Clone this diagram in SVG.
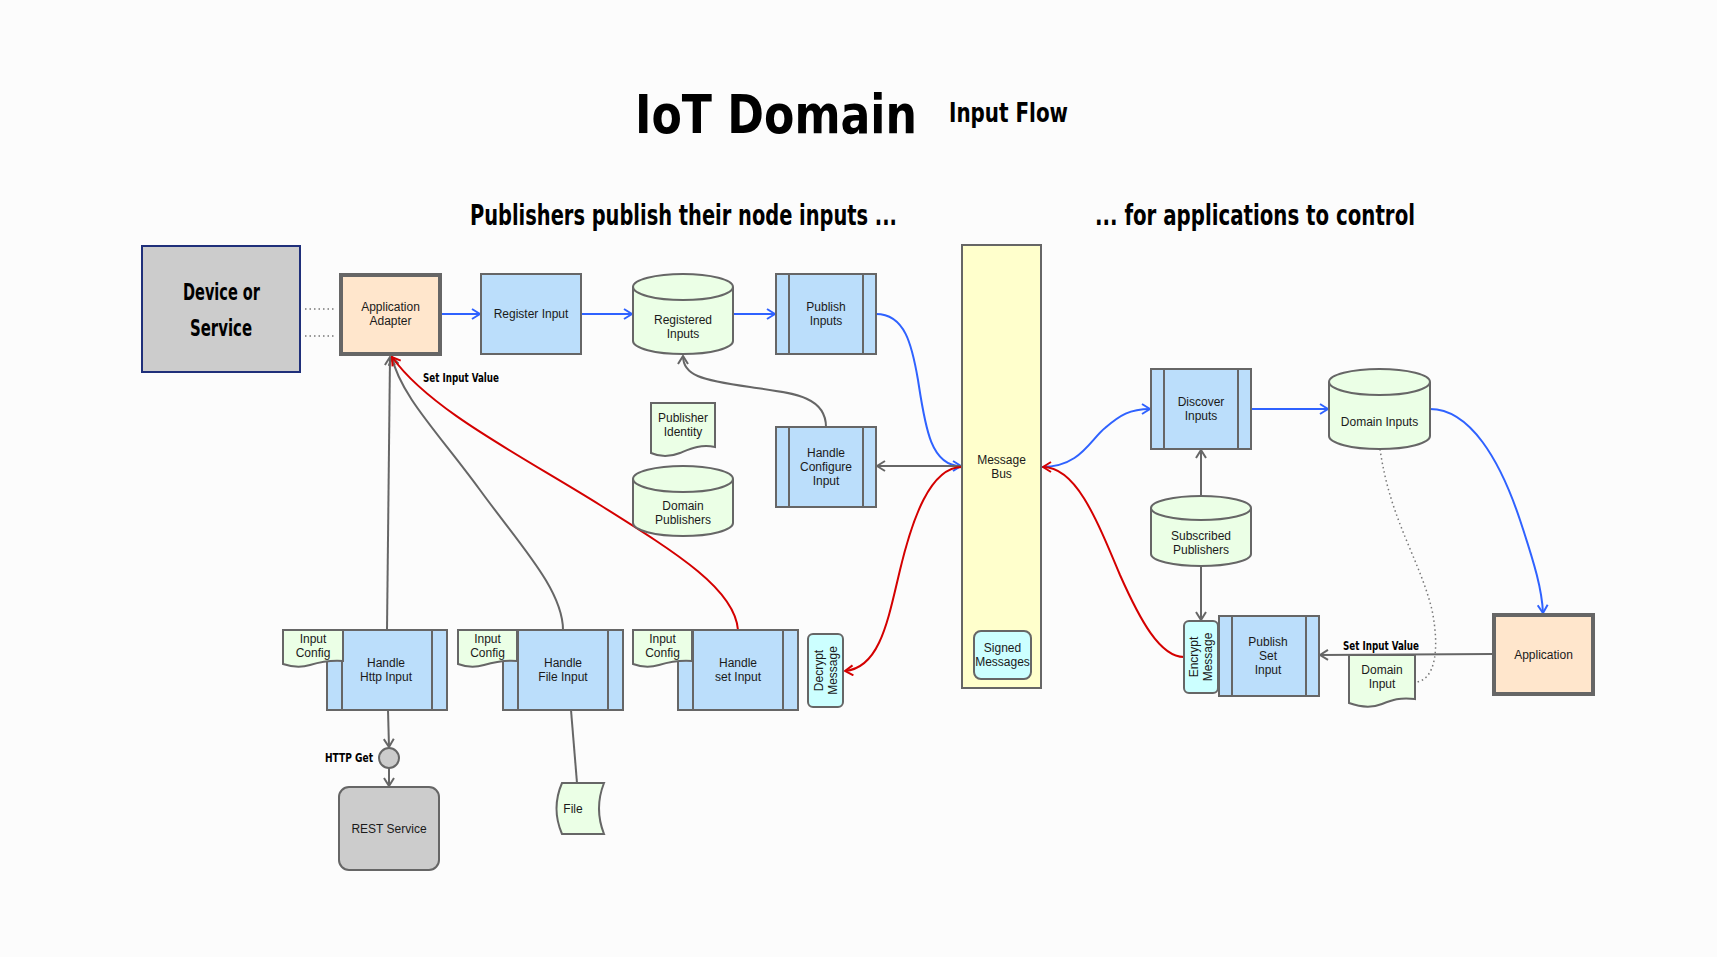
<svg xmlns="http://www.w3.org/2000/svg" width="1717" height="957" viewBox="0 0 1717 957">
<defs>
<style>
.bg{fill:#fcfcfc}
.proc{fill:#bbdefb;stroke:#666;stroke-width:2}
.pl{stroke:#666;stroke-width:2;fill:none}
.store{fill:#ebffe6;stroke:#666;stroke-width:2}
.app{fill:#ffe6cc;stroke:#666;stroke-width:4}
.cyan{fill:#ccffff;stroke:#666;stroke-width:2}
.grey{fill:#cccccc;stroke:#666;stroke-width:2}
.lbl{font-family:"Liberation Sans",Arial,sans-serif;font-size:12px;fill:#1a1a1a;text-anchor:middle}
.hw{font-family:"DejaVu Sans Condensed","DejaVu Sans",sans-serif;font-weight:bold;fill:#000}
.cb{fill:none;stroke:#2f62ff;stroke-width:2}
.cg{fill:none;stroke:#666;stroke-width:2}
.cr{fill:none;stroke:#d40000;stroke-width:2}
.dot{fill:none;stroke:#777;stroke-width:1.5;stroke-dasharray:1.5 3}
</style>
<marker id="ab" viewBox="0 0 10 12" refX="9" refY="6" markerWidth="10" markerHeight="12" markerUnits="userSpaceOnUse" orient="auto"><path d="M1,1 L9,6 L1,11" fill="none" stroke="#2f62ff" stroke-width="2"/></marker>
<marker id="ag" viewBox="0 0 10 12" refX="9" refY="6" markerWidth="10" markerHeight="12" markerUnits="userSpaceOnUse" orient="auto"><path d="M1,1 L9,6 L1,11" fill="none" stroke="#666" stroke-width="2"/></marker>
<marker id="ar" viewBox="0 0 10 12" refX="9" refY="6" markerWidth="10" markerHeight="12" markerUnits="userSpaceOnUse" orient="auto"><path d="M1,1 L9,6 L1,11" fill="none" stroke="#d40000" stroke-width="2"/></marker>
</defs>
<rect class="bg" x="0" y="0" width="1717" height="957"/>

<g id="titles">
<text class="hw" x="635" y="133" font-size="54" textLength="282" lengthAdjust="spacingAndGlyphs">IoT Domain</text>
<text class="hw" x="949" y="122" font-size="26" textLength="119" lengthAdjust="spacingAndGlyphs">Input Flow</text>
<text class="hw" x="470" y="225" font-size="29" textLength="427" lengthAdjust="spacingAndGlyphs">Publishers publish their node inputs ...</text>
<text class="hw" x="1095" y="225" font-size="29" textLength="320" lengthAdjust="spacingAndGlyphs">... for applications to control</text>
</g>

<g id="connectors">
<line class="dot" x1="305" y1="309" x2="334" y2="309"/>
<line class="dot" x1="305" y1="336" x2="334" y2="336"/>
<path class="cb" d="M442,314 L480,314" marker-end="url(#ab)"/>
<path class="cb" d="M581,314 L632,314" marker-end="url(#ab)"/>
<path class="cb" d="M733,314 L775,314" marker-end="url(#ab)"/>
<path class="cb" d="M876,314 C905,314 912,345 918,380 C925,425 930,466 961,466" marker-end="url(#ab)"/>
<path class="cg" d="M962,466 L877,466" marker-end="url(#ag)"/>
<path class="cg" d="M826,427 C826,395 790,393 750,387 C700,380 683,375 683,356" marker-end="url(#ag)"/>
<path class="cg" d="M387,630 L390,357" marker-end="url(#ag)"/>
<path class="cg" d="M563,630 C563,590 520,545 480,490 C440,435 400,395 392,357" marker-end="url(#ag)"/>
<path class="cr" d="M738,630 C735,590 680,555 600,505 C520,455 430,410 392,357" marker-end="url(#ar)"/>
<path class="cg" d="M388,710 L389,747" marker-end="url(#ag)"/>
<path class="cg" d="M389,768 L389,786" marker-end="url(#ag)"/>
<path class="cg" d="M571,710 L577,783"/>
<path class="cr" d="M962,467 C930,467 912,520 900,570 C888,620 880,668 845,671" marker-end="url(#ar)"/>
<path class="cb" d="M1042,467 C1080,467 1090,440 1105,428 C1120,415 1130,409 1150,409" marker-end="url(#ab)"/>
<path class="cr" d="M1184,657 C1160,657 1140,620 1120,575 C1095,515 1075,467 1043,467" marker-end="url(#ar)"/>
<path class="cb" d="M1251,409 L1328,409" marker-end="url(#ab)"/>
<path class="cg" d="M1201,496 L1201,450" marker-end="url(#ag)"/>
<path class="cg" d="M1201,566 L1201,620" marker-end="url(#ag)"/>
<path class="cg" d="M1492,654 L1320,655" marker-end="url(#ag)"/>
<path class="cb" d="M1430,409 C1470,409 1500,460 1520,520 C1535,565 1542,590 1543,613" marker-end="url(#ab)"/>
<path class="dot" d="M1380,449 C1390,520 1420,560 1432,610 C1440,650 1435,680 1416,682"/>
<text class="hw" x="423" y="382" font-size="13" textLength="76" lengthAdjust="spacingAndGlyphs">Set Input Value</text>
<text class="hw" x="325" y="762" font-size="12" textLength="48" lengthAdjust="spacingAndGlyphs">HTTP Get</text>
<text class="hw" x="1343" y="650" font-size="13" textLength="76" lengthAdjust="spacingAndGlyphs">Set Input Value</text>
</g>

<g id="device">
<rect x="142" y="246" width="158" height="126" fill="#cccccc" stroke="#1f2f7a" stroke-width="2"/>
<text class="hw" x="183" y="300" font-size="23" textLength="77" lengthAdjust="spacingAndGlyphs">Device or</text>
<text class="hw" x="190" y="336" font-size="23" textLength="62" lengthAdjust="spacingAndGlyphs">Service</text>
</g>

<g id="app-adapter">
<rect class="app" x="341" y="275" width="99" height="79"/>
<text class="lbl" x="390.5" y="311">Application</text>
<text class="lbl" x="390.5" y="325">Adapter</text>
</g>

<g id="register-input">
<rect class="proc" x="481" y="274" width="100" height="80"/>
<text class="lbl" x="531" y="318">Register Input</text>
</g>

<g id="registered-inputs">
<path class="store" d="M633,287 A50,13 0 0 1 733,287 V341 A50,13 0 0 1 633,341 Z"/>
<path class="pl" d="M633,287 A50,13 0 0 0 733,287"/>
<text class="lbl" x="683" y="324">Registered</text>
<text class="lbl" x="683" y="338">Inputs</text>
</g>

<g id="publish-inputs">
<rect class="proc" x="776" y="274" width="100" height="80"/>
<line class="pl" x1="789" y1="274" x2="789" y2="354"/>
<line class="pl" x1="863" y1="274" x2="863" y2="354"/>
<text class="lbl" x="826" y="311">Publish</text>
<text class="lbl" x="826" y="325">Inputs</text>
</g>

<g id="handle-configure">
<rect class="proc" x="776" y="427" width="100" height="80"/>
<line class="pl" x1="789" y1="427" x2="789" y2="507"/>
<line class="pl" x1="863" y1="427" x2="863" y2="507"/>
<text class="lbl" x="826" y="457">Handle</text>
<text class="lbl" x="826" y="471">Configure</text>
<text class="lbl" x="826" y="485">Input</text>
</g>

<g id="publisher-identity">
<path class="store" d="M651,403 H715 V447 C700,444 690,449 680,453 C670,457 660,457 651,453 Z"/>
<text class="lbl" x="683" y="422">Publisher</text>
<text class="lbl" x="683" y="436">Identity</text>
</g>

<g id="domain-publishers">
<path class="store" d="M633,479 A50,13 0 0 1 733,479 V523 A50,13 0 0 1 633,523 Z"/>
<path class="pl" d="M633,479 A50,13 0 0 0 733,479"/>
<text class="lbl" x="683" y="510">Domain</text>
<text class="lbl" x="683" y="524">Publishers</text>
</g>

<g id="message-bus">
<rect x="962" y="245" width="79" height="443" fill="#ffffcc" stroke="#666" stroke-width="2"/>
<text class="lbl" x="1001.5" y="464">Message</text>
<text class="lbl" x="1001.5" y="478">Bus</text>
</g>

<g id="signed-messages">
<rect class="cyan" x="974" y="631" width="57" height="48" rx="7"/>
<text class="lbl" x="1002.5" y="652">Signed</text>
<text class="lbl" x="1002.5" y="666">Messages</text>
</g>

<g id="handle-http">
<rect class="proc" x="327" y="630" width="120" height="80"/>
<line class="pl" x1="342" y1="630" x2="342" y2="710"/>
<line class="pl" x1="432" y1="630" x2="432" y2="710"/>
<text class="lbl" x="386" y="667">Handle</text>
<text class="lbl" x="386" y="681">Http Input</text>
</g>
<g id="input-config-1">
<path class="store" d="M283,630 H343 V661 C330,660 320,662 310,665 C300,668 292,667 283,664 Z"/>
<text class="lbl" x="313" y="643">Input</text>
<text class="lbl" x="313" y="657">Config</text>
</g>

<g id="handle-file">
<rect class="proc" x="503" y="630" width="120" height="80"/>
<line class="pl" x1="518" y1="630" x2="518" y2="710"/>
<line class="pl" x1="608" y1="630" x2="608" y2="710"/>
<text class="lbl" x="563" y="667">Handle</text>
<text class="lbl" x="563" y="681">File Input</text>
</g>
<g id="input-config-2">
<path class="store" d="M458,630 H517 V661 C504,660 494,662 484,665 C474,668 466,667 458,664 Z"/>
<text class="lbl" x="487.5" y="643">Input</text>
<text class="lbl" x="487.5" y="657">Config</text>
</g>

<g id="handle-set">
<rect class="proc" x="678" y="630" width="120" height="80"/>
<line class="pl" x1="693" y1="630" x2="693" y2="710"/>
<line class="pl" x1="783" y1="630" x2="783" y2="710"/>
<text class="lbl" x="738" y="667">Handle</text>
<text class="lbl" x="738" y="681">set Input</text>
</g>
<g id="input-config-3">
<path class="store" d="M633,630 H692 V661 C679,660 669,662 659,665 C649,668 641,667 633,664 Z"/>
<text class="lbl" x="662.5" y="643">Input</text>
<text class="lbl" x="662.5" y="657">Config</text>
</g>

<g id="decrypt-message">
<rect class="cyan" x="808" y="634" width="35" height="73" rx="5"/>
<text class="lbl" transform="translate(825.5,670.5) rotate(-90)"><tspan x="0" y="-3">Decrypt</tspan><tspan x="0" y="11">Message</tspan></text>
</g>

<g id="http-get">
<circle cx="389" cy="758" r="10" fill="#cccccc" stroke="#666" stroke-width="2"/>
</g>

<g id="rest-service">
<rect class="grey" x="339" y="787" width="100" height="83" rx="10"/>
<text class="lbl" x="389" y="833">REST Service</text>
</g>

<g id="file">
<path class="store" d="M562,783 H604 Q594,808.5 604,834 H562 Q551,808.5 562,783 Z"/>
<text class="lbl" x="573" y="813">File</text>
</g>

<g id="discover-inputs">
<rect class="proc" x="1151" y="369" width="100" height="80"/>
<line class="pl" x1="1164" y1="369" x2="1164" y2="449"/>
<line class="pl" x1="1238" y1="369" x2="1238" y2="449"/>
<text class="lbl" x="1201" y="406">Discover</text>
<text class="lbl" x="1201" y="420">Inputs</text>
</g>

<g id="domain-inputs">
<path class="store" d="M1329,382 A50.5,13 0 0 1 1430,382 V436 A50.5,13 0 0 1 1329,436 Z"/>
<path class="pl" d="M1329,382 A50.5,13 0 0 0 1430,382"/>
<text class="lbl" x="1379.5" y="426">Domain Inputs</text>
</g>

<g id="subscribed-publishers">
<path class="store" d="M1151,508 A50,12 0 0 1 1251,508 V554 A50,12 0 0 1 1151,554 Z"/>
<path class="pl" d="M1151,508 A50,12 0 0 0 1251,508"/>
<text class="lbl" x="1201" y="540">Subscribed</text>
<text class="lbl" x="1201" y="554">Publishers</text>
</g>

<g id="encrypt-message">
<rect class="cyan" x="1184" y="621" width="34" height="72" rx="5"/>
<text class="lbl" transform="translate(1201,657) rotate(-90)"><tspan x="0" y="-3">Encrypt</tspan><tspan x="0" y="11">Message</tspan></text>
</g>

<g id="publish-set-input">
<rect class="proc" x="1219" y="616" width="100" height="80"/>
<line class="pl" x1="1232" y1="616" x2="1232" y2="696"/>
<line class="pl" x1="1306" y1="616" x2="1306" y2="696"/>
<text class="lbl" x="1268" y="646">Publish</text>
<text class="lbl" x="1268" y="660">Set</text>
<text class="lbl" x="1268" y="674">Input</text>
</g>

<g id="domain-input">
<path class="store" d="M1349,655 H1415 V699 C1400,697 1392,700 1382,704 C1372,708 1360,707 1349,703 Z"/>
<text class="lbl" x="1382" y="674">Domain</text>
<text class="lbl" x="1382" y="688">Input</text>
</g>

<g id="application">
<rect class="app" x="1494" y="615" width="99" height="79"/>
<text class="lbl" x="1543.5" y="659">Application</text>
</g>
</svg>
